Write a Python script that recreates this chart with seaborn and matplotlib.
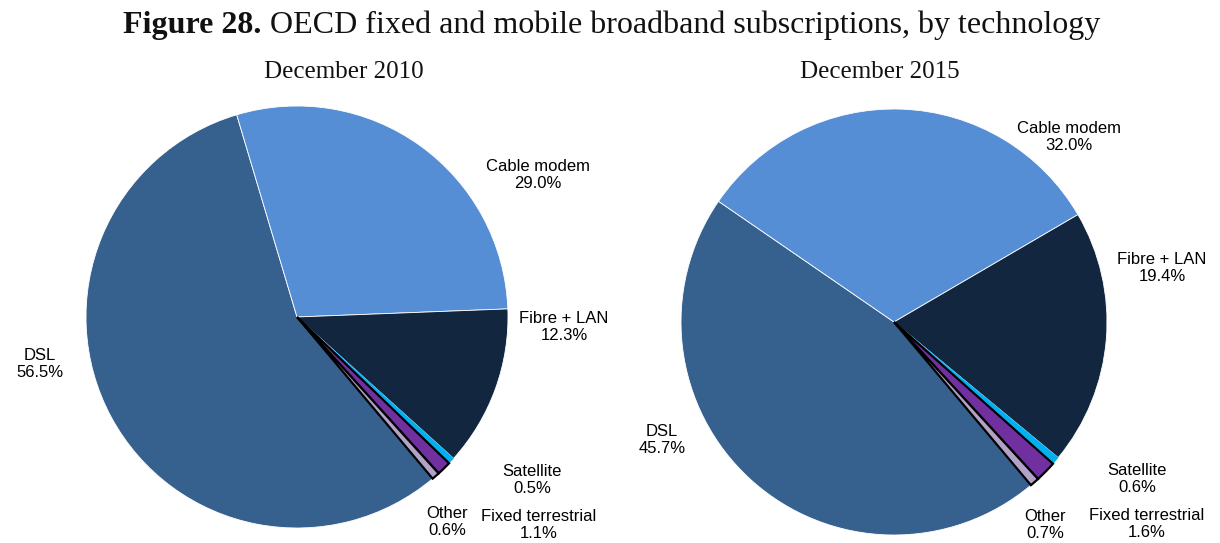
import matplotlib
matplotlib.use("Agg")
import matplotlib.pyplot as plt
import seaborn as sns

# Broadband subscriptions by technology (share of total, %)
technologies = ["DSL", "Cable modem", "Fibre + LAN", "Satellite", "Fixed terrestrial", "Other"]
share_2010 = [56.5, 29.0, 12.3, 0.5, 1.1, 0.6]
share_2015 = [45.7, 32.0, 19.4, 0.6, 1.6, 0.7]
panel_titles = ["December 2010", "December 2015"]

sns.set_theme(style="white")
plt.rcParams["font.family"] = ["Liberation Sans", "DejaVu Sans"]

palette = sns.color_palette(["#36618F", "#558ED5", "#12263F", "#00B0F0", "#7030A0", "#B3A2C7"])
edge_colors = ["white", "white", "white", "#00B0F0", "black", "black"]
edge_widths = [0.6, 0.6, 0.6, 0.3, 1.6, 1.6]

W, H = 1220, 543
fig = plt.figure(figsize=(W / 100, H / 100), dpi=100)

# pie boxes in pixels: left, top, size
boxes = [(86, 106, 422), (681, 109, 426)]

# label anchors in pie-radius units (centre = 0,0)
label_pos = [
    {"DSL": (-1.218, -0.223), "Cable modem": (1.142, 0.673), "Fibre + LAN": (1.265, -0.047),
     "Satellite": (1.114, -0.773), "Fixed terrestrial": (1.147, -0.986), "Other": (0.711, -0.972)},
    {"DSL": (-1.089, -0.554), "Cable modem": (0.822, 0.869), "Fibre + LAN": (1.258, 0.254),
     "Satellite": (1.141, -0.737), "Fixed terrestrial": (1.188, -0.948), "Other": (0.709, -0.952)},
]

for i, values in enumerate([share_2010, share_2015]):
    left, top, size = boxes[i]
    ax = fig.add_axes([left / W, (H - top - size) / H, size / W, size / H])
    wedges, _ = ax.pie(values, colors=palette, startangle=-50, counterclock=False,
                       radius=1.0, wedgeprops={"linewidth": 0.6})
    for w, ec, lw in zip(wedges, edge_colors, edge_widths):
        w.set_edgecolor(ec)
        w.set_linewidth(lw)
        w.set_joinstyle("miter")
    ax.set_xlim(-1, 1)
    ax.set_ylim(-1, 1)
    ax.set_aspect("equal")
    ax.axis("off")
    for name, val in zip(technologies, values):
        x, y = label_pos[i][name]
        ax.text(x, y, f"{name}\n{val:.1f}%", ha="center", va="center", fontsize=12,
                color="black", linespacing=1.2, clip_on=False)

# panel titles
for title, xc in zip(panel_titles, [344, 880]):
    fig.text(xc / W, 1 - 72 / H, title, ha="center", va="center",
             family="Liberation Serif", fontsize=18, color="#111111")

# figure heading: bold label followed by regular text
head_y = 1 - 25 / H
bold = fig.text(0, head_y, "Figure 28.", ha="left", va="center",
                family="Liberation Serif", fontsize=23, weight="bold", color="#111111")
rest = fig.text(0, head_y, " OECD fixed and mobile broadband subscriptions, by technology",
                ha="left", va="center", family="Liberation Serif", fontsize=23, color="#111111")
fig.canvas.draw()
r = fig.canvas.get_renderer()
wb = bold.get_window_extent(r).width
wr = rest.get_window_extent(r).width
x0 = 611.5 - (wb + wr) / 2
bold.set_x(x0 / W)
rest.set_x((x0 + wb) / W)

fig.savefig("out.png", dpi=100, facecolor="white")
